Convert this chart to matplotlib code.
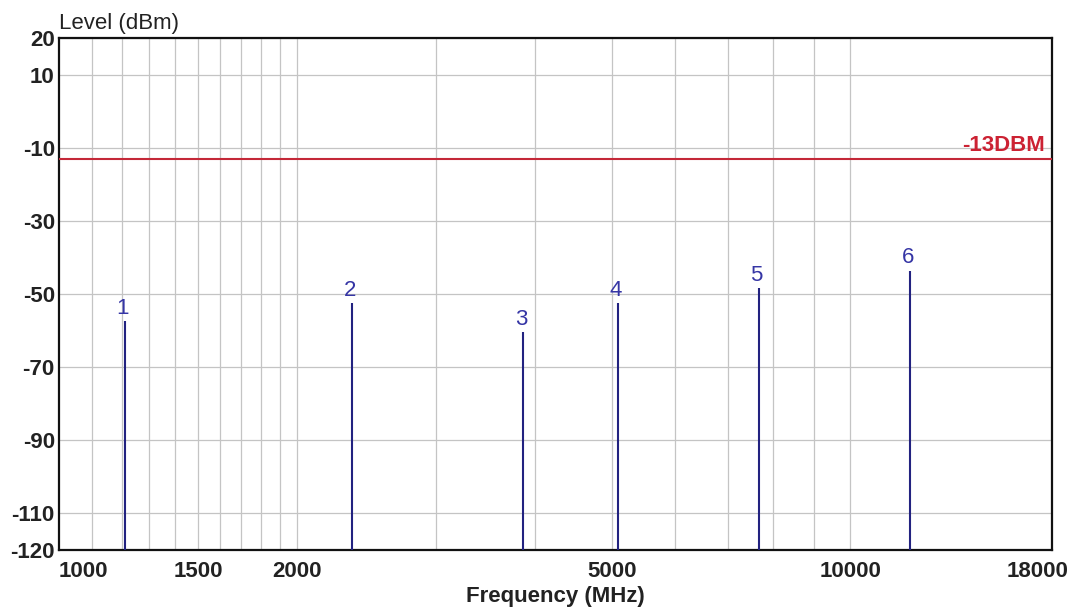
import matplotlib
matplotlib.use("Agg")
import matplotlib.pyplot as plt
from matplotlib.ticker import NullFormatter
from matplotlib.transforms import ScaledTranslation

plt.rcParams['font.family'] = ['Liberation Sans', 'DejaVu Sans']

# spurious emissions found on the sweep
spur_ids = ['1', '2', '3', '4', '5', '6']
spur_freq = [1212, 2347, 3859, 5089, 7661, 11910]      # MHz
spur_level = [-57.5, -52.5, -60.5, -52.5, -48.4, -43.6]  # dBm

limit_level = -13
limit_text = '-13DBM'

x_ticks = [1000, 1500, 2000, 5000, 10000, 18000]
x_grid = [1100, 1200, 1300, 1400, 1500, 1600, 1700, 1800, 1900, 2000,
          3000, 4000, 5000, 6000, 7000, 8000, 9000, 10000]
y_ticks = [20, 10, -10, -30, -50, -70, -90, -110, -120]

fs = 16

fig = plt.figure(figsize=(10.77, 6.09), dpi=100)
ax = fig.add_axes([59 / 1077, 59 / 609, 993 / 1077, 512 / 609])

ax.set_xscale('log')
ax.set_xlim(1000, 18000)
ax.set_ylim(-120, 20)

ax.xaxis.remove_overlapping_locs = False
ax.set_xticks(x_ticks)
ax.set_xticklabels([str(t) for t in x_ticks])
ax.set_xticks(x_grid, minor=True)
ax.xaxis.set_minor_formatter(NullFormatter())
ax.set_yticks(y_ticks)
ax.set_yticklabels([str(t) for t in y_ticks])

ax.grid(False, axis='x', which='major')
ax.grid(True, axis='x', which='minor', color='#c4c4c4', lw=0.9)
ax.grid(True, axis='y', which='major', color='#c4c4c4', lw=0.9)
ax.set_axisbelow(True)

ax.tick_params(axis='both', which='both', length=0)
ax.tick_params(axis='x', pad=8, labelsize=fs, labelcolor='#222222')
ax.tick_params(axis='y', pad=3, labelsize=fs, labelcolor='#222222')
for lab in ax.get_xticklabels() + ax.get_yticklabels():
    lab.set_fontweight('bold')

xl = ax.get_xticklabels()
xl[0].set_horizontalalignment('left')
xl[-1].set_transform(xl[-1].get_transform()
                     + ScaledTranslation(-0.14, 0, fig.dpi_scale_trans))

for s in ax.spines.values():
    s.set_linewidth(1.6)
    s.set_color('#111111')

# limit line
ax.axhline(limit_level, color='#c42838', lw=1.5, zorder=3)
ax.annotate(limit_text, xy=(18000, limit_level), xytext=(-5, 5.5),
            textcoords='offset points', ha='right', va='baseline',
            fontsize=fs, fontweight='bold', color='#cc2233')

# spurs
ax.vlines(spur_freq, -120, spur_level, color='#222280', lw=1.5, zorder=4)
for sid, f, lv in zip(spur_ids, spur_freq, spur_level):
    ax.annotate(sid, xy=(f, lv), xytext=(-1.5, 5.5),
                textcoords='offset points', ha='center', va='baseline',
                fontsize=fs, color='#3535a5')

ax.set_xlabel('Frequency (MHz)', fontsize=fs, fontweight='bold',
              color='#222222', labelpad=3)
ax.text(0, 1 + 9 / 512, 'Level (dBm)', transform=ax.transAxes,
        ha='left', va='baseline', fontsize=fs, color='#222222')

fig.savefig('out.png', dpi=100)
